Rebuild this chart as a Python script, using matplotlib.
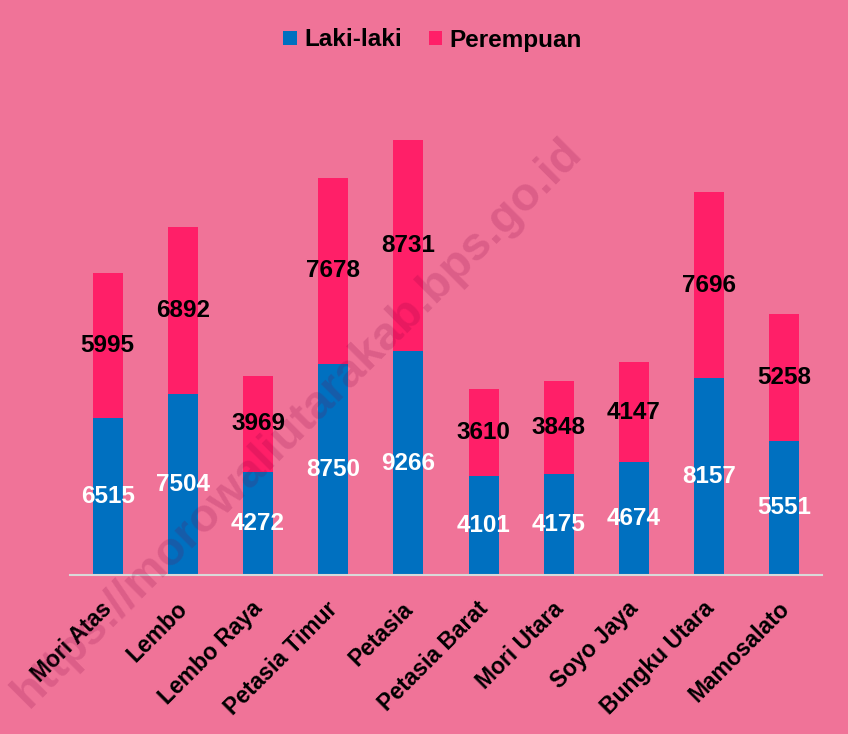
import matplotlib
matplotlib.use("Agg")
import matplotlib.pyplot as plt
import matplotlib.transforms as mtransforms
import numpy as np

plt.rcParams["font.family"] = ["Liberation Sans", "DejaVu Sans"]

# data per kecamatan
kecamatan = ["Mori Atas", "Lembo", "Lembo Raya", "Petasia Timur", "Petasia",
             "Petasia Barat", "Mori Utara", "Soyo Jaya", "Bungku Utara", "Mamosalato"]
laki = [6515, 7504, 4272, 8750, 9266, 4101, 4175, 4674, 8157, 5551]
perempuan = [5995, 6892, 3969, 7678, 8731, 3610, 3848, 4147, 7696, 5258]

BG = "#F07398"
BLUE = "#0070C0"
PINK = "#FF1F68"

fig = plt.figure(figsize=(8.48, 7.34), dpi=100, facecolor=BG)
ax = fig.add_axes([70 / 848, 1 - 575 / 734, 752 / 848, 483 / 734])
ax.set_facecolor(BG)

x = np.arange(len(kecamatan))
b1 = ax.bar(x, laki, width=0.4, color=BLUE, label="Laki-laki", zorder=2)
b2 = ax.bar(x, perempuan, width=0.4, bottom=laki, color=PINK, label="Perempuan", zorder=2)

ax.bar_label(b1, labels=[str(v) for v in laki], label_type="center",
             color="white", fontsize=17.5, fontweight="bold")
ax.bar_label(b2, labels=[str(v) for v in perempuan], label_type="center",
             color="black", fontsize=17.5, fontweight="bold")

ax.set_xlim(-0.5, len(kecamatan) - 0.5)
ax.set_ylim(0, 20000)
ax.set_yticks([])
ax.set_xticks(x)
ax.set_xticklabels(kecamatan, rotation=45, ha="right", rotation_mode="anchor",
                   fontsize=16.5, fontweight="bold")
ax.tick_params(axis="x", length=0, pad=16)
# geser label sedikit ke kiri supaya ujungnya pas di tengah batang
shift = mtransforms.ScaledTranslation(-7 / 100, 0, fig.dpi_scale_trans)
for lbl in ax.get_xticklabels():
    lbl.set_transform(lbl.get_transform() + shift)
for s in ["top", "right", "left"]:
    ax.spines[s].set_visible(False)
ax.spines["bottom"].set_color("#D9D9D9")
ax.spines["bottom"].set_linewidth(1.5)

leg = fig.legend(loc="center", bbox_to_anchor=(0.51, 1 - 40 / 734), ncol=2,
                 frameon=False, handlelength=0.55, handleheight=0.55,
                 handletextpad=0.3, columnspacing=1.1,
                 prop={"size": 17.5, "weight": "bold"})

# watermark
fig.text(298 / 848, 1 - 423 / 734, "https://morowaliutarakab.bps.go.id",
         rotation=45, ha="center", va="center", fontsize=34, fontweight="bold",
         color="#800040", alpha=0.18, zorder=10)

fig.savefig("out.png", dpi=100, facecolor=BG)
